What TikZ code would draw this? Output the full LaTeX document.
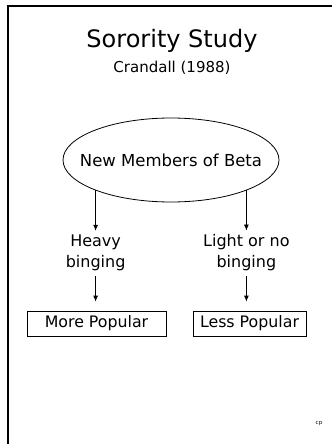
\documentclass[tikz,border=0pt]{standalone}
\usepackage{fontspec}
\setmainfont{DejaVu Sans}
\usetikzlibrary{arrows.meta,shapes.geometric}

\begin{document}
\begin{tikzpicture}[x=1pt,y=-1pt,
    label/.style={inner sep=0pt,align=center,font=\fontsize{16}{21}\selectfont},
    result/.style={draw,line width=0.8pt,minimum height=25pt,inner sep=0pt,font=\fontsize{15.8}{17}\selectfont},
    flow/.style={line width=0.8pt,arrows={-Latex[length=6pt,width=5pt]}}]
                \useasboundingbox (0,0) rectangle (332,444);
                \draw[line width=2pt] (8.3,444) -- (8.3,6.2) -- (332,6.2);

                \node (title) at (172,41) {\fontsize{24}{27}\selectfont Sorority Study};
                \node (cite) at (172,68) {\fontsize{15}{17}\selectfont Crandall (1988)};

                \node[ellipse,draw,line width=0.8pt,minimum width=216pt,minimum height=84pt,inner xsep=-15pt,inner ysep=0pt,
                    font=\fontsize{16.5}{19}\selectfont] (members) at (171,160) {New Members of Beta};

                \node[label] (heavy) at (members.202 |- 0,253) {Heavy\\binging};
                \node[label] (light) at (members.338 |- 0,253) {Light or no\\binging};

                \node[result,minimum width=139pt] (more) at (96.5,323.5) {More Popular};
                \node[result,minimum width=113pt] (less) at (249.5,323.5) {Less Popular};

                \draw[flow] (members.202) -- (members.202 |- heavy.north) [shorten >=4pt];
                \draw[flow] (members.338) -- (members.338 |- light.north) [shorten >=4pt];
                \draw[flow,shorten <=5pt,shorten >=9pt] (heavy.south) -- (heavy.south |- more.north);
                \draw[flow,shorten <=5pt,shorten >=9pt] (light.south) -- (light.south |- less.north);

                \node[font=\fontsize{5.5}{6}\selectfont] (mark) at (319,424) {cp};
\end{tikzpicture}
\end{document}
